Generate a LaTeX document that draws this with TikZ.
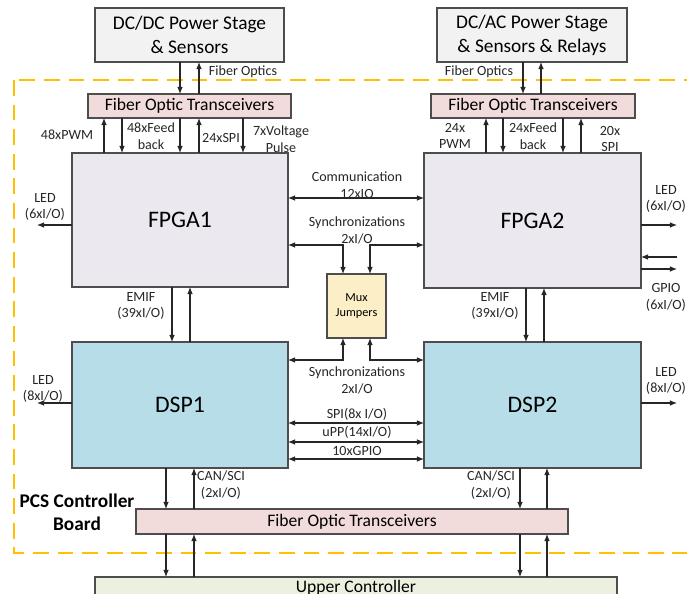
\documentclass[tikz,border=0pt]{standalone}
\usepackage{fontspec}
\setmainfont{Carlito}
\usetikzlibrary{arrows.meta}
\definecolor{pwrfill}{HTML}{F2F2F2}
\definecolor{fotfill}{HTML}{F2DCDB}
\definecolor{fpgafill}{HTML}{EBE8F0}
\definecolor{dspfill}{HTML}{B7DDE8}
\definecolor{muxfill}{HTML}{FCEFC8}
\definecolor{upfill}{HTML}{EBF1DE}
\definecolor{edgegray}{HTML}{4D4D4D}
\definecolor{linegray}{HTML}{262626}
\definecolor{boardline}{HTML}{FFC000}
\begin{document}
\begin{tikzpicture}[x=0.02cm,y=-0.02cm,>={Latex[length=4pt,width=3.2pt]},
  blk/.style={rectangle,draw=edgegray,line width=0.7pt,outer sep=0pt,inner sep=0pt,align=center,text=black},
  lbl/.style={align=center,font=\fontsize{8}{9.6}\selectfont,inner sep=0pt,text=linegray},
  sig/.style={line width=0.6pt,draw=linegray}]
\useasboundingbox (0,0) rectangle (687,594);
% board outline
\draw[boardline,line width=1.2pt,dash pattern=on 9pt off 5pt] (14,80) rectangle (720,553);
\node[font=\fontsize{11}{13}\selectfont\bfseries,align=center] (board) at (77,512) {PCS Controller\\Board};
% blocks
\draw (189.5,35) node[blk,fill=pwrfill,minimum width=3.78cm,minimum height=1.08cm,font=\fontsize{11}{13.6}\selectfont] (dcdc) {DC/DC Power Stage\\\& Sensors};
\draw (532,35) node[blk,fill=pwrfill,minimum width=3.8cm,minimum height=1.08cm,font=\fontsize{11}{13.6}\selectfont] (dcac) {DC/AC Power Stage\\\& Sensors \& Relays};
\draw (189.5,106) node[blk,fill=fotfill,minimum width=4.06cm,minimum height=0.48cm,font=\fontsize{10}{12}\selectfont] (fot1) {Fiber Optic Transceivers};
\draw (533,106) node[blk,fill=fotfill,minimum width=4.08cm,minimum height=0.48cm,font=\fontsize{10}{12}\selectfont] (fot2) {Fiber Optic Transceivers};
\draw (180,220) node[blk,fill=fpgafill,minimum width=4.32cm,minimum height=2.68cm,font=\fontsize{13.5}{16}\selectfont] (fpga1) {FPGA1};
\draw (532.5,220.5) node[blk,fill=fpgafill,minimum width=4.34cm,minimum height=2.7cm,font=\fontsize{13.5}{16}\selectfont] (fpga2) {FPGA2};
\draw (180,405) node[blk,fill=dspfill,minimum width=4.32cm,minimum height=2.52cm,font=\fontsize{13.5}{16}\selectfont] (dsp1) {DSP1};
\draw (532.5,405) node[blk,fill=dspfill,minimum width=4.34cm,minimum height=2.52cm,font=\fontsize{13.5}{16}\selectfont] (dsp2) {DSP2};
\draw (356.5,306) node[blk,fill=muxfill,minimum width=1.18cm,minimum height=1.28cm,font=\fontsize{7}{9}\selectfont] (mux) {Mux\\Jumpers};
\draw (352,521.5) node[blk,fill=fotfill,minimum width=8.64cm,minimum height=0.5cm,font=\fontsize{10}{12}\selectfont] (fot3) {Fiber Optic Transceivers};
\draw (356,587.5) node[blk,fill=upfill,minimum width=10.44cm,minimum height=0.42cm,font=\fontsize{10}{12}\selectfont] (upper) {Upper Controller};
% power stages <-> transceivers
\draw[sig,->] (180,0 |- dcdc.south) -- (180,0 |- fot1.north);
\draw[sig,->] (199,0 |- fot1.north) -- (199,0 |- dcdc.south);
\draw[sig,->] (523,0 |- dcac.south) -- (523,0 |- fot2.north);
\draw[sig,->] (541,0 |- fot2.north) -- (541,0 |- dcac.south);
\node[lbl] (fo1) at (243,72) {Fiber Optics};
\node[lbl] (fo2) at (479,72) {Fiber Optics};
% transceivers <-> FPGA1
\draw[sig,->] (104,0 |- fpga1.north) -- (104,0 |- fot1.south);
\draw[sig,->] (122,0 |- fot1.south) -- (122,0 |- fpga1.north);
\draw[sig,->] (180,0 |- fot1.south) -- (180,0 |- fpga1.north);
\draw[sig,->] (199,0 |- fpga1.north) -- (199,0 |- fot1.south);
\draw[sig,->] (243,0 |- fot1.south) -- (243,0 |- fpga1.north);
\node[lbl] (pwm1) at (67,135) {48xPWM};
\node[lbl] (fb1) at (151,136) {48xFeed\\back};
\node[lbl] (spi1) at (221,138) {24xSPI};
\node[lbl] (vp1) at (281,139) {7xVoltage\\Pulse};
% transceivers <-> FPGA2
\draw[sig,->] (486,0 |- fpga2.north) -- (486,0 |- fot2.south);
\draw[sig,->] (503,0 |- fot2.south) -- (503,0 |- fpga2.north);
\draw[sig,->] (563,0 |- fot2.south) -- (563,0 |- fpga2.north);
\draw[sig,->] (581,0 |- fpga2.north) -- (581,0 |- fot2.south);
\node[lbl] (pwm2) at (455,136) {24x\\PWM};
\node[lbl] (fb2) at (533,136) {24xFeed\\back};
\node[lbl] (spi2) at (610,139) {20x\\SPI};
% FPGA1 <-> FPGA2
\draw[sig,<->] (fpga1.east |- 0,198) -- (fpga2.west |- 0,198);
\node[lbl] (comm) at (357,185) {Communication\\12xIO};
\draw[sig,<->] (fpga1.east |- 0,245) -| (343,0 |- mux.north);
\draw[sig,<->] (fpga2.west |- 0,245) -| (370,0 |- mux.north);
\node[lbl] (synca) at (357,230) {Synchronizations\\2xI/O};
% DSP1 <-> DSP2
\draw[sig,<->] (dsp1.east |- 0,360) -| (343,0 |- mux.south);
\draw[sig,<->] (dsp2.west |- 0,360) -| (370,0 |- mux.south);
\node[lbl] (syncb) at (357,380) {Synchronizations\\2xI/O};
\draw[sig,<->] (dsp1.east |- 0,423) -- (dsp2.west |- 0,423);
\draw[sig,<->] (dsp1.east |- 0,442) -- (dsp2.west |- 0,442);
\draw[sig,<->] (dsp1.east |- 0,459) -- (dsp2.west |- 0,459);
\node[lbl] (spi) at (357,414) {SPI(8x I/O)};
\node[lbl] (upp) at (357,432) {uPP(14xI/O)};
\node[lbl] (gpio) at (357,451) {10xGPIO};
% FPGA <-> DSP
\draw[sig,->] (172,0 |- fpga1.south) -- (172,0 |- dsp1.north);
\draw[sig,->] (190,0 |- dsp1.north) -- (190,0 |- fpga1.south);
\draw[sig,->] (526,0 |- fpga2.south) -- (526,0 |- dsp2.north);
\draw[sig,->] (544,0 |- dsp2.north) -- (544,0 |- fpga2.south);
\node[lbl] (emif1) at (141,306) {EMIF\\(39xI/O)};
\node[lbl] (emif2) at (495,306) {EMIF\\(39xI/O)};
% LEDs and GPIO
\coordinate (ledfa) at (37,225);
\coordinate (ledda) at (37,403);
\coordinate (ledfb) at (677,225);
\coordinate (gpin) at (677,257);
\coordinate (gpout) at (677,269);
\coordinate (leddb) at (677,403);
\draw[sig,->] (fpga1.west |- ledfa) -- (ledfa);
\draw[sig,->] (dsp1.west |- ledda) -- (ledda);
\draw[sig,->] (fpga2.east |- ledfb) -- (ledfb);
\draw[sig,->] (gpin) -- (fpga2.east |- gpin);
\draw[sig,->] (fpga2.east |- gpout) -- (gpout);
\draw[sig,->] (dsp2.east |- leddb) -- (leddb);
\node[lbl] (led1) at (45,207) {LED\\(6xI/O)};
\node[lbl] (led2) at (43,389) {LED\\(8xI/O)};
\node[lbl] (led3) at (666,199) {LED\\(6xI/O)};
\node[lbl] (gpiol) at (666,297) {GPIO\\(6xI/O)};
\node[lbl] (led4) at (666,381) {LED\\(8xI/O)};
% DSP <-> transceivers <-> upper controller
\draw[sig,->] (166,0 |- dsp1.south) -- (166,0 |- fot3.north);
\draw[sig,->] (194,0 |- fot3.north) -- (194,0 |- dsp1.south);
\draw[sig,->] (520,0 |- dsp2.south) -- (520,0 |- fot3.north);
\draw[sig,->] (547,0 |- fot3.north) -- (547,0 |- dsp2.south);
\node[lbl] (can1) at (221,485) {CAN/SCI\\(2xI/O)};
\node[lbl] (can2) at (491,485) {CAN/SCI\\(2xI/O)};
\draw[sig,->] (166,0 |- fot3.south) -- (166,0 |- upper.north);
\draw[sig,->] (194,0 |- upper.north) -- (194,0 |- fot3.south);
\draw[sig,->] (520,0 |- fot3.south) -- (520,0 |- upper.north);
\draw[sig,->] (547,0 |- upper.north) -- (547,0 |- fot3.south);
\end{tikzpicture}
\end{document}
